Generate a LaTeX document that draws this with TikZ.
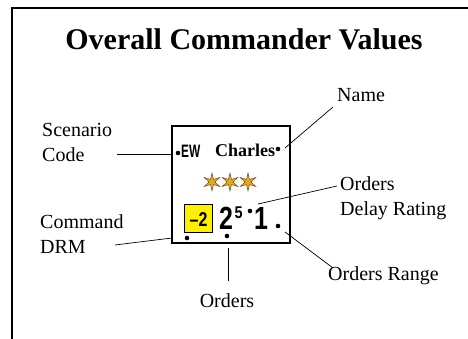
\documentclass[tikz,border=0pt]{standalone}
\usepackage{fontspec}
\setmainfont{Liberation Serif}
\setsansfont{Liberation Sans}
\usetikzlibrary{shapes.geometric}
\definecolor{stargold}{RGB}{222,168,40}
\definecolor{staredge}{RGB}{110,70,20}
\definecolor{counteryellow}{RGB}{255,240,0}
\tikzset{
  lbl/.style={inner sep=0pt, font=\fontsize{20}{25}\selectfont, align=left},
  leader/.style={line width=0.7pt},
  dotc/.style={circle, fill=black, inner sep=0pt, minimum size=4.6pt},
  rankstar/.style={star, star points=6, star point ratio=3, minimum size=18pt, inner sep=0pt,
    fill=stargold, draw=staredge, line width=0.45pt},
}
\begin{document}
\begin{tikzpicture}[x=1pt,y=-1pt]
\useasboundingbox (0,0) rectangle (468,339);
% frame
\draw[line width=1.5pt] (12,339) -- (12,8) -- (468,8);
% title
\node[inner sep=0pt, anchor=base, font=\fontsize{30}{36}\selectfont\bfseries] (title) at (244,50) {Overall Commander Values};
% counter
\node[draw, line width=1.2pt, inner sep=0pt, minimum width=118pt, minimum height=117pt] (box) at (231,184.5) {};
\node[dotc] (dEW) at (178,153) {};
\node[inner sep=0pt, anchor=base west, font=\sffamily\bfseries\fontsize{18}{20}\selectfont] (ew) at (181,158) {\scalebox{0.66}[1]{EW}};
\node[inner sep=0pt, anchor=base west, font=\bfseries\fontsize{18}{20}\selectfont] (name) at (215,157) {Charles};
\node[dotc] (dName) at (278,149) {};
\node[rankstar] (s1) at (212,182) {};
\node[rankstar] (s2) at (230,182) {};
\node[rankstar] (s3) at (248,182) {};
\node[draw, fill=counteryellow, line width=0.7pt, inner sep=0pt, minimum width=28pt, minimum height=28pt] (drm) at (198,218) {};
\node[inner sep=0pt, anchor=base, font=\sffamily\bfseries\fontsize{20}{22}\selectfont] (drmt) at (198.5,226.5) {\scalebox{0.8}[1]{–2}};
\node[inner sep=0pt, anchor=base west, font=\sffamily\bfseries\fontsize{32}{34}\selectfont] (ord) at (219,229.5) {\scalebox{0.78}[1]{2}};
\node[inner sep=0pt, anchor=base west, font=\sffamily\bfseries\fontsize{17}{18}\selectfont] (delay) at (234.5,218.5) {\scalebox{0.85}[1]{5}};
\node[dotc] (dDelay) at (250,211) {};
\node[inner sep=0pt, anchor=base west, font=\sffamily\bfseries\fontsize{32}{34}\selectfont] (rng) at (254,229.5) {\scalebox{0.78}[1]{1}};
\node[dotc] (dRange) at (278,226) {};
\node[dotc] (dDRM) at (187,238) {};
\node[dotc] (dOrd) at (227,236) {};
% labels
\node[lbl, anchor=base west] (lScen) at (42,162) {Scenario\\Code};
\node[lbl, anchor=base west] (lCmd) at (40,253) {Command\\DRM};
\node[lbl, anchor=base west] (lName) at (337,102) {Name};
\node[lbl, anchor=base west] (lDelay) at (340,215) {Orders\\Delay Rating};
\node[lbl, anchor=base west] (lRange) at (328,280) {Orders Range};
\node[lbl, anchor=base] (lOrd) at (227,307) {Orders};
% leader ends
\coordinate (cScen) at (117,154);
\coordinate (cCmd) at (115,245);
\coordinate (cName) at (333,107);
\coordinate (eName) at (285,148);
\coordinate (cDelay) at (337,186);
\coordinate (eDelay) at (258,204);
\coordinate (cRange) at (333,268);
\coordinate (eRange) at (285,232);
\coordinate (cOrd) at (228,281);
% leaders
\draw[leader] (cScen) -- (cScen -| box.west);
\draw[leader] (cCmd) -- (172,238);
\draw[leader] (cName) -- (eName);
\draw[leader] (cDelay) -- (eDelay);
\draw[leader] (cRange) -- (eRange);
\draw[leader] (cOrd) -- (cOrd |- 248,248);
\end{tikzpicture}
\end{document}
